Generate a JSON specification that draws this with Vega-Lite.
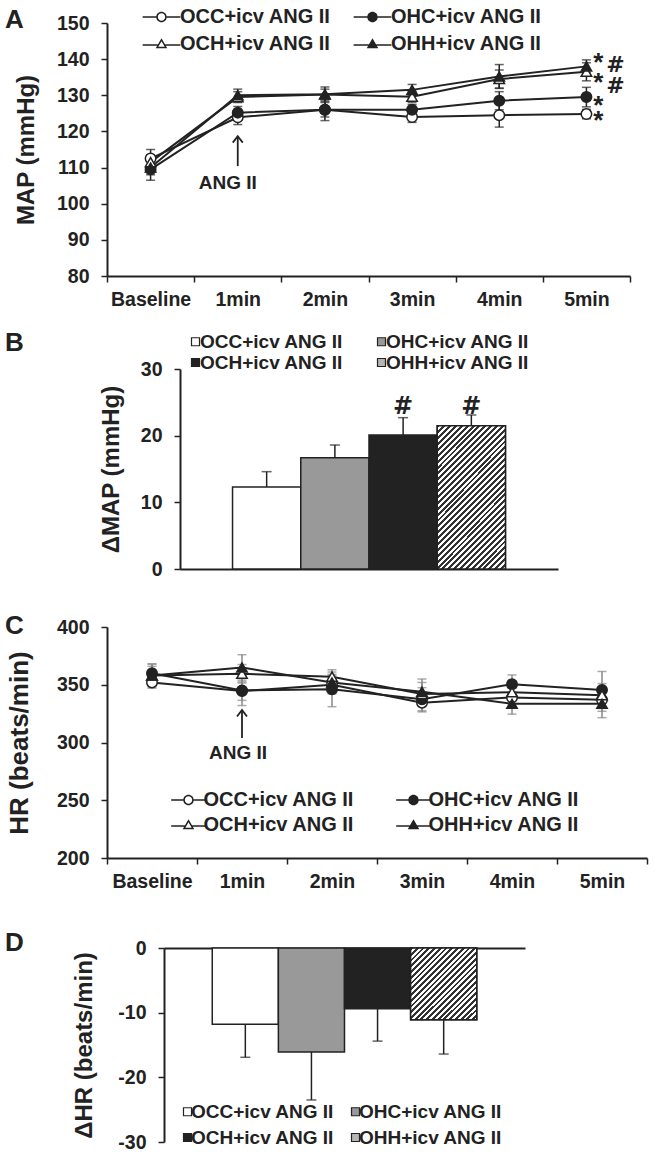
{
  "$schema": "https://vega.github.io/schema/vega-lite/v6.json",
  "padding": {"left": 5, "top": 7, "right": 5, "bottom": 5},
  "background": "white",
  "datasets": {
    "map": [
      {"t": "Baseline", "group": "OCC+icv ANG II", "v": 112.5, "sem": 2.5},
      {"t": "1min", "group": "OCC+icv ANG II", "v": 123.9, "sem": 2.0},
      {"t": "2min", "group": "OCC+icv ANG II", "v": 126.0, "sem": 2.0},
      {"t": "3min", "group": "OCC+icv ANG II", "v": 124.0, "sem": 1.5},
      {"t": "4min", "group": "OCC+icv ANG II", "v": 124.5, "sem": 3.3},
      {"t": "5min", "group": "OCC+icv ANG II", "v": 124.8, "sem": 1.3},
      {"t": "Baseline", "group": "OHC+icv ANG II", "v": 109.5, "sem": 3.0},
      {"t": "1min", "group": "OHC+icv ANG II", "v": 125.2, "sem": 1.7},
      {"t": "2min", "group": "OHC+icv ANG II", "v": 126.0, "sem": 3.0},
      {"t": "3min", "group": "OHC+icv ANG II", "v": 126.0, "sem": 1.5},
      {"t": "4min", "group": "OHC+icv ANG II", "v": 128.5, "sem": 2.5},
      {"t": "5min", "group": "OHC+icv ANG II", "v": 129.5, "sem": 2.7},
      {"t": "Baseline", "group": "OCH+icv ANG II", "v": 111.5, "sem": 2.0},
      {"t": "1min", "group": "OCH+icv ANG II", "v": 129.5, "sem": 1.5},
      {"t": "2min", "group": "OCH+icv ANG II", "v": 130.2, "sem": 1.5},
      {"t": "3min", "group": "OCH+icv ANG II", "v": 129.6, "sem": 1.5},
      {"t": "4min", "group": "OCH+icv ANG II", "v": 134.5, "sem": 2.5},
      {"t": "5min", "group": "OCH+icv ANG II", "v": 136.5, "sem": 2.5},
      {"t": "Baseline", "group": "OHH+icv ANG II", "v": 110.0, "sem": 2.0},
      {"t": "1min", "group": "OHH+icv ANG II", "v": 130.0, "sem": 1.7},
      {"t": "2min", "group": "OHH+icv ANG II", "v": 130.3, "sem": 2.0},
      {"t": "3min", "group": "OHH+icv ANG II", "v": 131.5, "sem": 1.5},
      {"t": "4min", "group": "OHH+icv ANG II", "v": 135.2, "sem": 3.3},
      {"t": "5min", "group": "OHH+icv ANG II", "v": 138.0, "sem": 1.8}
    ],
    "mapStar": [
      {"t": "5min", "v": 140.9, "label": "*"},
      {"t": "5min", "v": 135.3, "label": "*"},
      {"t": "5min", "v": 129.0, "label": "*"},
      {"t": "5min", "v": 124.8, "label": "*"}
    ],
    "mapHash": [
      {"t": "5min", "v": 138.7, "label": "#"},
      {"t": "5min", "v": 132.8, "label": "#"}
    ],
    "mapArrow": [{"t": "1min", "v": 110.4, "v2": 118.7}],
    "mapArrowTip": [{"t": "1min", "v": 118.7}],
    "mapArrowText": [{"t": "1min", "v": 106.0, "label": "ANG II"}],
    "hr": [
      {"t": "Baseline", "group": "OCC+icv ANG II", "v": 352, "sem": 5},
      {"t": "1min", "group": "OCC+icv ANG II", "v": 344.5, "sem": 8},
      {"t": "2min", "group": "OCC+icv ANG II", "v": 350, "sem": 8},
      {"t": "3min", "group": "OCC+icv ANG II", "v": 334.5, "sem": 8},
      {"t": "4min", "group": "OCC+icv ANG II", "v": 339, "sem": 8},
      {"t": "5min", "group": "OCC+icv ANG II", "v": 337, "sem": 10},
      {"t": "Baseline", "group": "OHC+icv ANG II", "v": 360, "sem": 8},
      {"t": "1min", "group": "OHC+icv ANG II", "v": 345, "sem": 13},
      {"t": "2min", "group": "OHC+icv ANG II", "v": 346, "sem": 15},
      {"t": "3min", "group": "OHC+icv ANG II", "v": 337.5, "sem": 10},
      {"t": "4min", "group": "OHC+icv ANG II", "v": 350.5, "sem": 8},
      {"t": "5min", "group": "OHC+icv ANG II", "v": 345.5, "sem": 16},
      {"t": "Baseline", "group": "OCH+icv ANG II", "v": 358, "sem": 10},
      {"t": "1min", "group": "OCH+icv ANG II", "v": 359.5, "sem": 8},
      {"t": "2min", "group": "OCH+icv ANG II", "v": 357, "sem": 6},
      {"t": "3min", "group": "OCH+icv ANG II", "v": 342, "sem": 10},
      {"t": "4min", "group": "OCH+icv ANG II", "v": 343.5, "sem": 10},
      {"t": "5min", "group": "OCH+icv ANG II", "v": 341, "sem": 10},
      {"t": "Baseline", "group": "OHH+icv ANG II", "v": 358, "sem": 8},
      {"t": "1min", "group": "OHH+icv ANG II", "v": 365, "sem": 11},
      {"t": "2min", "group": "OHH+icv ANG II", "v": 352, "sem": 7},
      {"t": "3min", "group": "OHH+icv ANG II", "v": 344, "sem": 11},
      {"t": "4min", "group": "OHH+icv ANG II", "v": 333.5, "sem": 9},
      {"t": "5min", "group": "OHH+icv ANG II", "v": 333.5, "sem": 12}
    ],
    "hrArrow": [{"t": "1min", "v": 303.9, "v2": 328.1}],
    "hrArrowTip": [{"t": "1min", "v": 328.1}],
    "hrArrowText": [{"t": "1min", "v": 291.8, "label": "ANG II"}],
    "dmap": [
      {"group": "OCC+icv ANG II", "v": 12.3, "hi": 14.6},
      {"group": "OHC+icv ANG II", "v": 16.7, "hi": 18.6},
      {"group": "OCH+icv ANG II", "v": 20.1, "hi": 22.7},
      {"group": "OHH+icv ANG II", "v": 21.5, "hi": 23.1}
    ],
    "dmapHash": [
      {"group": "OCH+icv ANG II", "v": 24.6, "label": "#"},
      {"group": "OHH+icv ANG II", "v": 24.6, "label": "#"}
    ],
    "dhr": [
      {"group": "OCC+icv ANG II", "v": -11.8, "lo": -16.9},
      {"group": "OHC+icv ANG II", "v": -16.1, "lo": -23.5},
      {"group": "OCH+icv ANG II", "v": -9.4, "lo": -14.4},
      {"group": "OHH+icv ANG II", "v": -11.1, "lo": -16.4}
    ]
  },
  "align": "none",
  "resolve": {"scale": {"fill": "independent", "shape": "independent"}, "legend": {"fill": "independent", "shape": "independent"}},
  "spacing": 34,
  "vconcat": [
    {
      "align": "none",
      "resolve": {"scale": {"fill": "independent", "shape": "independent"}, "legend": {"fill": "independent", "shape": "independent"}},
      "spacing": 21,
      "vconcat": [
        {
          "width": 523,
          "height": 253,
          "title": {"text": "A", "dx": -102, "dy": 30},
          "data": {"name": "map"},
          "resolve": {"scale": {"fill": "independent", "shape": "independent"}, "legend": {"fill": "independent", "shape": "independent"}},
          "encoding": {
            "x": {"field": "t", "type": "nominal", "sort": ["Baseline", "1min", "2min", "3min", "4min", "5min"], "scale": {"domain": ["Baseline", "1min", "2min", "3min", "4min", "5min"], "paddingInner": 0, "paddingOuter": 0}, "axis": {"title": null, "tickBand": "extent", "labelPadding": 8}},
            "y": {"field": "v", "type": "quantitative", "scale": {"domain": [80, 150], "nice": false, "zero": false}, "axis": {"title": "MAP (mmHg)", "values": [80, 90, 100, 110, 120, 130, 140, 150], "labelPadding": 12, "titlePadding": 18}}
          },
          "layer": [
            {"mark": {"type": "errorbar", "color": "#222", "thickness": 1.5, "ticks": {"size": 9}}, "encoding": {"yError": {"field": "sem"}}},
            {"mark": {"type": "line", "color": "#222", "strokeWidth": 2}, "encoding": {"detail": {"field": "group"}}},
            {
              "mark": {"type": "point", "filled": true, "size": 110, "stroke": "#222", "strokeWidth": 1.5, "opacity": 1},
              "encoding": {
                "shape": {"field": "group", "type": "nominal", "scale": {"domain": ["OCC+icv ANG II", "OHC+icv ANG II", "OCH+icv ANG II", "OHH+icv ANG II"], "range": ["circle", "circle", "triangle-up", "triangle-up"]}, "legend": null},
                "fill": {"field": "group", "type": "nominal", "scale": {"domain": ["OCC+icv ANG II", "OHC+icv ANG II", "OCH+icv ANG II", "OHH+icv ANG II"], "range": ["#ffffff", "#222222", "#ffffff", "#222222"]}, "legend": null}
              }
            },
            {
              "mark": {"type": "point", "filled": true, "color": "#222", "size": 110, "opacity": 0},
              "encoding": {
                "shape": {"field": "group", "type": "nominal",
                  "scale": {"domain": ["OCC+icv ANG II", "OHC+icv ANG II", "OCH+icv ANG II", "OHH+icv ANG II"],
                    "range": [
                      "M-3.6,-0.15L-1,-0.15L-1,0.15L-3.6,0.15ZM1,-0.15L3.6,-0.15L3.6,0.15L1,0.15ZM-1,0A1,1,0,1,1,1,0A1,1,0,1,1,-1,0ZM-0.7,0A0.7,0.7,0,1,0,0.7,0A0.7,0.7,0,1,0,-0.7,0Z",
                      "M-3.6,-0.15L-1,-0.15L-1,0.15L-3.6,0.15ZM1,-0.15L3.6,-0.15L3.6,0.15L1,0.15ZM-1,0A1,1,0,1,1,1,0A1,1,0,1,1,-1,0Z",
                      "M-3.6,0.05L-0.72,0.05L-0.72,0.35L-3.6,0.35ZM0.72,0.05L3.6,0.05L3.6,0.35L0.72,0.35ZM0,-1.1L1.1,0.8L-1.1,0.8ZM0,-0.54L-0.61,0.52L0.61,0.52Z",
                      "M-3.6,0.05L-0.72,0.05L-0.72,0.35L-3.6,0.35ZM0.72,0.05L3.6,0.05L3.6,0.35L0.72,0.35ZM0,-1.1L1.1,0.8L-1.1,0.8Z"
                    ]},
                  "legend": {"title": null, "orient": "none", "direction": "horizontal", "legendX": 36, "legendY": -16, "columns": 2, "columnPadding": 22, "rowPadding": 7, "labelFontSize": 20, "symbolSize": 110, "symbolOpacity": 1, "symbolFillColor": "#222", "symbolStrokeColor": "transparent", "symbolStrokeWidth": 0, "symbolOffset": 8.5, "labelOffset": 8.5}}
              }
            },
            {"data": {"name": "mapStar"}, "mark": {"type": "text", "fontSize": 26, "dx": 12, "dy": 15}, "encoding": {"text": {"field": "label"}}},
            {"data": {"name": "mapHash"}, "mark": {"type": "text", "font": "DejaVu Sans", "fontWeight": "bold", "fontSize": 22, "dx": 29, "dy": 8}, "encoding": {"text": {"field": "label"}}},
            {"data": {"name": "mapArrow"}, "mark": {"type": "rule", "color": "#222", "strokeWidth": 1.8}, "encoding": {"y2": {"field": "v2"}}},
            {"data": {"name": "mapArrowTip"}, "mark": {"type": "point", "shape": "M-1,1.3L0,0L1,1.3", "size": 100, "filled": false, "stroke": "#222", "strokeWidth": 1.8, "opacity": 1}},
            {"data": {"name": "mapArrowText"}, "mark": {"type": "text", "fontSize": 19, "dx": -10, "dy": 7}, "encoding": {"text": {"field": "label"}}}
          ]
        },
        {
          "width": 451,
          "height": 200,
          "title": {"text": "B", "dx": -102, "dy": 28},
          "data": {"name": "dmap"},
          "encoding": {
            "x": {"field": "group", "type": "nominal", "scale": {"domain": ["OCC+icv ANG II", "OHC+icv ANG II", "OCH+icv ANG II", "OHH+icv ANG II"], "range": [73, 451], "paddingInner": 0, "paddingOuter": 0.77}, "axis": {"title": null, "labels": false, "ticks": false}},
            "y": {"field": "v", "type": "quantitative", "scale": {"domain": [0, 30], "nice": false}, "axis": {"title": "ΔMAP (mmHg)", "values": [0, 10, 20, 30], "offset": -73, "labelPadding": 12, "titlePadding": 17}}
          },
          "layer": [
            {
              "mark": {"type": "bar", "stroke": "#222", "strokeWidth": 1.5},
              "encoding": {
                "fill": {"field": "group", "type": "nominal", "scale": {"domain": ["OCC+icv ANG II", "OHC+icv ANG II", "OCH+icv ANG II", "OHH+icv ANG II"], "range": ["#ffffff", "#999999", "#222222", "#b5b5b5"]},
                  "legend": {"title": null, "orient": "none", "direction": "horizontal", "legendX": 79, "legendY": -37, "columns": 2, "columnPadding": 28, "rowPadding": 1, "labelFontSize": 19, "symbolType": "square", "symbolSize": 64, "symbolStrokeWidth": 1.2, "symbolStrokeColor": "#222", "symbolOpacity": 1, "labelOffset": -5}}
              }
            },
            {
              "transform": [{"filter": "datum.group == 'OHH+icv ANG II'"}],
              "mark": {"type": "bar", "stroke": "#222", "strokeWidth": 1.5, "fill": {"gradient": "linear", "x1": 0, "y1": 0, "x2": 0.575, "y2": 1.203, "stops": [
                {"offset": 0, "color": "#333"},
                {"offset": 0.0139, "color": "#333"}, {"offset": 0.0139, "color": "#fff"},
                {"offset": 0.0278, "color": "#fff"}, {"offset": 0.0278, "color": "#333"},
                {"offset": 0.0417, "color": "#333"}, {"offset": 0.0417, "color": "#fff"},
                {"offset": 0.0556, "color": "#fff"}, {"offset": 0.0556, "color": "#333"},
                {"offset": 0.0694, "color": "#333"}, {"offset": 0.0694, "color": "#fff"},
                {"offset": 0.0833, "color": "#fff"}, {"offset": 0.0833, "color": "#333"},
                {"offset": 0.0972, "color": "#333"}, {"offset": 0.0972, "color": "#fff"},
                {"offset": 0.1111, "color": "#fff"}, {"offset": 0.1111, "color": "#333"},
                {"offset": 0.125, "color": "#333"}, {"offset": 0.125, "color": "#fff"},
                {"offset": 0.1389, "color": "#fff"}, {"offset": 0.1389, "color": "#333"},
                {"offset": 0.1528, "color": "#333"}, {"offset": 0.1528, "color": "#fff"},
                {"offset": 0.1667, "color": "#fff"}, {"offset": 0.1667, "color": "#333"},
                {"offset": 0.1806, "color": "#333"}, {"offset": 0.1806, "color": "#fff"},
                {"offset": 0.1944, "color": "#fff"}, {"offset": 0.1944, "color": "#333"},
                {"offset": 0.2083, "color": "#333"}, {"offset": 0.2083, "color": "#fff"},
                {"offset": 0.2222, "color": "#fff"}, {"offset": 0.2222, "color": "#333"},
                {"offset": 0.2361, "color": "#333"}, {"offset": 0.2361, "color": "#fff"},
                {"offset": 0.25, "color": "#fff"}, {"offset": 0.25, "color": "#333"},
                {"offset": 0.2639, "color": "#333"}, {"offset": 0.2639, "color": "#fff"},
                {"offset": 0.2778, "color": "#fff"}, {"offset": 0.2778, "color": "#333"},
                {"offset": 0.2917, "color": "#333"}, {"offset": 0.2917, "color": "#fff"},
                {"offset": 0.3056, "color": "#fff"}, {"offset": 0.3056, "color": "#333"},
                {"offset": 0.3194, "color": "#333"}, {"offset": 0.3194, "color": "#fff"},
                {"offset": 0.3333, "color": "#fff"}, {"offset": 0.3333, "color": "#333"},
                {"offset": 0.3472, "color": "#333"}, {"offset": 0.3472, "color": "#fff"},
                {"offset": 0.3611, "color": "#fff"}, {"offset": 0.3611, "color": "#333"},
                {"offset": 0.375, "color": "#333"}, {"offset": 0.375, "color": "#fff"},
                {"offset": 0.3889, "color": "#fff"}, {"offset": 0.3889, "color": "#333"},
                {"offset": 0.4028, "color": "#333"}, {"offset": 0.4028, "color": "#fff"},
                {"offset": 0.4167, "color": "#fff"}, {"offset": 0.4167, "color": "#333"},
                {"offset": 0.4306, "color": "#333"}, {"offset": 0.4306, "color": "#fff"},
                {"offset": 0.4444, "color": "#fff"}, {"offset": 0.4444, "color": "#333"},
                {"offset": 0.4583, "color": "#333"}, {"offset": 0.4583, "color": "#fff"},
                {"offset": 0.4722, "color": "#fff"}, {"offset": 0.4722, "color": "#333"},
                {"offset": 0.4861, "color": "#333"}, {"offset": 0.4861, "color": "#fff"},
                {"offset": 0.5, "color": "#fff"}, {"offset": 0.5, "color": "#333"},
                {"offset": 0.5139, "color": "#333"}, {"offset": 0.5139, "color": "#fff"},
                {"offset": 0.5278, "color": "#fff"}, {"offset": 0.5278, "color": "#333"},
                {"offset": 0.5417, "color": "#333"}, {"offset": 0.5417, "color": "#fff"},
                {"offset": 0.5556, "color": "#fff"}, {"offset": 0.5556, "color": "#333"},
                {"offset": 0.5694, "color": "#333"}, {"offset": 0.5694, "color": "#fff"},
                {"offset": 0.5833, "color": "#fff"}, {"offset": 0.5833, "color": "#333"},
                {"offset": 0.5972, "color": "#333"}, {"offset": 0.5972, "color": "#fff"},
                {"offset": 0.6111, "color": "#fff"}, {"offset": 0.6111, "color": "#333"},
                {"offset": 0.625, "color": "#333"}, {"offset": 0.625, "color": "#fff"},
                {"offset": 0.6389, "color": "#fff"}, {"offset": 0.6389, "color": "#333"},
                {"offset": 0.6528, "color": "#333"}, {"offset": 0.6528, "color": "#fff"},
                {"offset": 0.6667, "color": "#fff"}, {"offset": 0.6667, "color": "#333"},
                {"offset": 0.6806, "color": "#333"}, {"offset": 0.6806, "color": "#fff"},
                {"offset": 0.6944, "color": "#fff"}, {"offset": 0.6944, "color": "#333"},
                {"offset": 0.7083, "color": "#333"}, {"offset": 0.7083, "color": "#fff"},
                {"offset": 0.7222, "color": "#fff"}, {"offset": 0.7222, "color": "#333"},
                {"offset": 0.7361, "color": "#333"}, {"offset": 0.7361, "color": "#fff"},
                {"offset": 0.75, "color": "#fff"}, {"offset": 0.75, "color": "#333"},
                {"offset": 0.7639, "color": "#333"}, {"offset": 0.7639, "color": "#fff"},
                {"offset": 0.7778, "color": "#fff"}, {"offset": 0.7778, "color": "#333"},
                {"offset": 0.7917, "color": "#333"}, {"offset": 0.7917, "color": "#fff"},
                {"offset": 0.8056, "color": "#fff"}, {"offset": 0.8056, "color": "#333"},
                {"offset": 0.8194, "color": "#333"}, {"offset": 0.8194, "color": "#fff"},
                {"offset": 0.8333, "color": "#fff"}, {"offset": 0.8333, "color": "#333"},
                {"offset": 0.8472, "color": "#333"}, {"offset": 0.8472, "color": "#fff"},
                {"offset": 0.8611, "color": "#fff"}, {"offset": 0.8611, "color": "#333"},
                {"offset": 0.875, "color": "#333"}, {"offset": 0.875, "color": "#fff"},
                {"offset": 0.8889, "color": "#fff"}, {"offset": 0.8889, "color": "#333"},
                {"offset": 0.9028, "color": "#333"}, {"offset": 0.9028, "color": "#fff"},
                {"offset": 0.9167, "color": "#fff"}, {"offset": 0.9167, "color": "#333"},
                {"offset": 0.9306, "color": "#333"}, {"offset": 0.9306, "color": "#fff"},
                {"offset": 0.9444, "color": "#fff"}, {"offset": 0.9444, "color": "#333"},
                {"offset": 0.9583, "color": "#333"}, {"offset": 0.9583, "color": "#fff"},
                {"offset": 0.9722, "color": "#fff"}, {"offset": 0.9722, "color": "#333"},
                {"offset": 0.9861, "color": "#333"}, {"offset": 0.9861, "color": "#fff"},
                {"offset": 1, "color": "#fff"}
              ]}}
            },
            {"mark": {"type": "rule", "color": "#222", "strokeWidth": 1.5}, "encoding": {"y2": {"field": "hi"}}},
            {"mark": {"type": "tick", "color": "#222", "thickness": 1.5, "size": 10}, "encoding": {"y": {"field": "hi", "type": "quantitative"}}},
            {"data": {"name": "dmapHash"}, "mark": {"type": "text", "font": "DejaVu Sans", "fontWeight": "bold", "fontSize": 24, "dy": 9}, "encoding": {"text": {"field": "label"}}}
          ]
        }
      ]
    },
    {
      "align": "none",
      "resolve": {"scale": {"fill": "independent", "shape": "independent"}, "legend": {"fill": "independent", "shape": "independent"}},
      "spacing": 39,
      "vconcat": [
        {
          "width": 540,
          "height": 231,
          "title": {"text": "C", "dx": -102, "dy": 26},
          "data": {"name": "hr"},
          "resolve": {"scale": {"fill": "independent", "shape": "independent"}, "legend": {"fill": "independent", "shape": "independent"}},
          "encoding": {
            "x": {"field": "t", "type": "nominal", "sort": ["Baseline", "1min", "2min", "3min", "4min", "5min"], "scale": {"domain": ["Baseline", "1min", "2min", "3min", "4min", "5min"], "paddingInner": 0, "paddingOuter": 0}, "axis": {"title": null, "tickBand": "extent", "labelPadding": 8}},
            "y": {"field": "v", "type": "quantitative", "scale": {"domain": [200, 400], "nice": false, "zero": false}, "axis": {"title": "HR (beats/min)", "titleFontSize": 26, "values": [200, 250, 300, 350, 400], "labelPadding": 12, "titlePadding": 24}}
          },
          "layer": [
            {"mark": {"type": "errorbar", "color": "#888", "thickness": 1.5, "ticks": {"size": 9}}, "encoding": {"yError": {"field": "sem"}}},
            {"mark": {"type": "line", "color": "#222", "strokeWidth": 2}, "encoding": {"detail": {"field": "group"}}},
            {
              "mark": {"type": "point", "filled": true, "size": 110, "stroke": "#222", "strokeWidth": 1.5, "opacity": 1},
              "encoding": {
                "shape": {"field": "group", "type": "nominal", "scale": {"domain": ["OCC+icv ANG II", "OHC+icv ANG II", "OCH+icv ANG II", "OHH+icv ANG II"], "range": ["circle", "circle", "triangle-up", "triangle-up"]}, "legend": null},
                "fill": {"field": "group", "type": "nominal", "scale": {"domain": ["OCC+icv ANG II", "OHC+icv ANG II", "OCH+icv ANG II", "OHH+icv ANG II"], "range": ["#ffffff", "#222222", "#ffffff", "#222222"]}, "legend": null}
              }
            },
            {
              "mark": {"type": "point", "filled": true, "color": "#222", "size": 110, "opacity": 0},
              "encoding": {
                "shape": {"field": "group", "type": "nominal",
                  "scale": {"domain": ["OCC+icv ANG II", "OHC+icv ANG II", "OCH+icv ANG II", "OHH+icv ANG II"],
                    "range": [
                      "M-3.3,-0.15L-1,-0.15L-1,0.15L-3.3,0.15ZM1,-0.15L3.3,-0.15L3.3,0.15L1,0.15ZM-1,0A1,1,0,1,1,1,0A1,1,0,1,1,-1,0ZM-0.7,0A0.7,0.7,0,1,0,0.7,0A0.7,0.7,0,1,0,-0.7,0Z",
                      "M-3.3,-0.15L-1,-0.15L-1,0.15L-3.3,0.15ZM1,-0.15L3.3,-0.15L3.3,0.15L1,0.15ZM-1,0A1,1,0,1,1,1,0A1,1,0,1,1,-1,0Z",
                      "M-3.3,0.05L-0.72,0.05L-0.72,0.35L-3.3,0.35ZM0.72,0.05L3.3,0.05L3.3,0.35L0.72,0.35ZM0,-1.1L1.1,0.8L-1.1,0.8ZM0,-0.54L-0.61,0.52L0.61,0.52Z",
                      "M-3.3,0.05L-0.72,0.05L-0.72,0.35L-3.3,0.35ZM0.72,0.05L3.3,0.05L3.3,0.35L0.72,0.35ZM0,-1.1L1.1,0.8L-1.1,0.8Z"
                    ]},
                  "legend": {"title": null, "orient": "none", "direction": "horizontal", "legendX": 65, "legendY": 163, "columns": 2, "columnPadding": 41, "rowPadding": 5, "labelFontSize": 20, "symbolSize": 110, "symbolOpacity": 1, "symbolFillColor": "#222", "symbolStrokeColor": "transparent", "symbolStrokeWidth": 0, "symbolOffset": 6.5, "labelOffset": 5}}
              }
            },
            {"data": {"name": "hrArrow"}, "mark": {"type": "rule", "color": "#222", "strokeWidth": 1.8}, "encoding": {"y2": {"field": "v2"}}},
            {"data": {"name": "hrArrowTip"}, "mark": {"type": "point", "shape": "M-1,1.3L0,0L1,1.3", "size": 100, "filled": false, "stroke": "#222", "strokeWidth": 1.8, "opacity": 1}},
            {"data": {"name": "hrArrowText"}, "mark": {"type": "text", "fontSize": 19, "dx": -4, "dy": 7}, "encoding": {"text": {"field": "label"}}}
          ]
        },
        {
          "width": 418,
          "height": 194,
          "title": {"text": "D", "dx": -102, "dy": 22},
          "data": {"name": "dhr"},
          "encoding": {
            "x": {"field": "group", "type": "nominal", "scale": {"domain": ["OCC+icv ANG II", "OHC+icv ANG II", "OCH+icv ANG II", "OHH+icv ANG II"], "range": [57, 418], "paddingInner": 0, "paddingOuter": 0.73}, "axis": {"title": null, "labels": false, "ticks": false, "orient": "top"}},
            "y": {"field": "v", "type": "quantitative", "scale": {"domain": [-30, 0], "nice": false}, "axis": {"title": "ΔHR (beats/min)", "values": [-30, -20, -10, 0], "labelExpr": "'' + datum.value", "offset": -57, "labelPadding": 12, "titlePadding": 21}}
          },
          "layer": [
            {
              "mark": {"type": "bar", "stroke": "#222", "strokeWidth": 1.5},
              "encoding": {
                "fill": {"field": "group", "type": "nominal", "scale": {"domain": ["OCC+icv ANG II", "OHC+icv ANG II", "OCH+icv ANG II", "OHH+icv ANG II"], "range": ["#ffffff", "#999999", "#222222", "#b5b5b5"]},
                  "legend": {"title": null, "orient": "none", "direction": "horizontal", "legendX": 71, "legendY": 154, "columns": 2, "columnPadding": 11, "rowPadding": 6, "labelFontSize": 19, "symbolType": "square", "symbolSize": 64, "symbolStrokeWidth": 1.2, "symbolStrokeColor": "#222", "symbolOpacity": 1, "labelOffset": -6}}
              }
            },
            {
              "transform": [{"filter": "datum.group == 'OHH+icv ANG II'"}],
              "mark": {"type": "bar", "stroke": "#222", "strokeWidth": 1.5, "fill": {"gradient": "linear", "x1": 0, "y1": 0, "x2": 0.956, "y2": 1.04, "stops": [
                {"offset": 0, "color": "#333"},
                {"offset": 0.0208, "color": "#333"}, {"offset": 0.0208, "color": "#fff"},
                {"offset": 0.0417, "color": "#fff"}, {"offset": 0.0417, "color": "#333"},
                {"offset": 0.0625, "color": "#333"}, {"offset": 0.0625, "color": "#fff"},
                {"offset": 0.0833, "color": "#fff"}, {"offset": 0.0833, "color": "#333"},
                {"offset": 0.1042, "color": "#333"}, {"offset": 0.1042, "color": "#fff"},
                {"offset": 0.125, "color": "#fff"}, {"offset": 0.125, "color": "#333"},
                {"offset": 0.1458, "color": "#333"}, {"offset": 0.1458, "color": "#fff"},
                {"offset": 0.1667, "color": "#fff"}, {"offset": 0.1667, "color": "#333"},
                {"offset": 0.1875, "color": "#333"}, {"offset": 0.1875, "color": "#fff"},
                {"offset": 0.2083, "color": "#fff"}, {"offset": 0.2083, "color": "#333"},
                {"offset": 0.2292, "color": "#333"}, {"offset": 0.2292, "color": "#fff"},
                {"offset": 0.25, "color": "#fff"}, {"offset": 0.25, "color": "#333"},
                {"offset": 0.2708, "color": "#333"}, {"offset": 0.2708, "color": "#fff"},
                {"offset": 0.2917, "color": "#fff"}, {"offset": 0.2917, "color": "#333"},
                {"offset": 0.3125, "color": "#333"}, {"offset": 0.3125, "color": "#fff"},
                {"offset": 0.3333, "color": "#fff"}, {"offset": 0.3333, "color": "#333"},
                {"offset": 0.3542, "color": "#333"}, {"offset": 0.3542, "color": "#fff"},
                {"offset": 0.375, "color": "#fff"}, {"offset": 0.375, "color": "#333"},
                {"offset": 0.3958, "color": "#333"}, {"offset": 0.3958, "color": "#fff"},
                {"offset": 0.4167, "color": "#fff"}, {"offset": 0.4167, "color": "#333"},
                {"offset": 0.4375, "color": "#333"}, {"offset": 0.4375, "color": "#fff"},
                {"offset": 0.4583, "color": "#fff"}, {"offset": 0.4583, "color": "#333"},
                {"offset": 0.4792, "color": "#333"}, {"offset": 0.4792, "color": "#fff"},
                {"offset": 0.5, "color": "#fff"}, {"offset": 0.5, "color": "#333"},
                {"offset": 0.5208, "color": "#333"}, {"offset": 0.5208, "color": "#fff"},
                {"offset": 0.5417, "color": "#fff"}, {"offset": 0.5417, "color": "#333"},
                {"offset": 0.5625, "color": "#333"}, {"offset": 0.5625, "color": "#fff"},
                {"offset": 0.5833, "color": "#fff"}, {"offset": 0.5833, "color": "#333"},
                {"offset": 0.6042, "color": "#333"}, {"offset": 0.6042, "color": "#fff"},
                {"offset": 0.625, "color": "#fff"}, {"offset": 0.625, "color": "#333"},
                {"offset": 0.6458, "color": "#333"}, {"offset": 0.6458, "color": "#fff"},
                {"offset": 0.6667, "color": "#fff"}, {"offset": 0.6667, "color": "#333"},
                {"offset": 0.6875, "color": "#333"}, {"offset": 0.6875, "color": "#fff"},
                {"offset": 0.7083, "color": "#fff"}, {"offset": 0.7083, "color": "#333"},
                {"offset": 0.7292, "color": "#333"}, {"offset": 0.7292, "color": "#fff"},
                {"offset": 0.75, "color": "#fff"}, {"offset": 0.75, "color": "#333"},
                {"offset": 0.7708, "color": "#333"}, {"offset": 0.7708, "color": "#fff"},
                {"offset": 0.7917, "color": "#fff"}, {"offset": 0.7917, "color": "#333"},
                {"offset": 0.8125, "color": "#333"}, {"offset": 0.8125, "color": "#fff"},
                {"offset": 0.8333, "color": "#fff"}, {"offset": 0.8333, "color": "#333"},
                {"offset": 0.8542, "color": "#333"}, {"offset": 0.8542, "color": "#fff"},
                {"offset": 0.875, "color": "#fff"}, {"offset": 0.875, "color": "#333"},
                {"offset": 0.8958, "color": "#333"}, {"offset": 0.8958, "color": "#fff"},
                {"offset": 0.9167, "color": "#fff"}, {"offset": 0.9167, "color": "#333"},
                {"offset": 0.9375, "color": "#333"}, {"offset": 0.9375, "color": "#fff"},
                {"offset": 0.9583, "color": "#fff"}, {"offset": 0.9583, "color": "#333"},
                {"offset": 0.9792, "color": "#333"}, {"offset": 0.9792, "color": "#fff"},
                {"offset": 1, "color": "#fff"}
              ]}}
            },
            {"mark": {"type": "rule", "color": "#222", "strokeWidth": 1.5}, "encoding": {"y2": {"field": "lo"}}},
            {"mark": {"type": "tick", "color": "#222", "thickness": 1.5, "size": 10}, "encoding": {"y": {"field": "lo", "type": "quantitative"}}}
          ]
        }
      ]
    }
  ],
  "config": {
    "font": "Liberation Sans",
    "view": {"stroke": null},
    "axis": {"domainColor": "#222", "domainWidth": 2, "tickColor": "#222", "tickWidth": 1.5, "tickSize": 6, "labelFont": "Liberation Sans", "labelFontSize": 19.5, "labelFontWeight": "bold", "labelColor": "#222", "titleFont": "Liberation Sans", "titleFontSize": 24, "titleFontWeight": "bold", "titleColor": "#222", "grid": false, "labelAngle": 0},
    "title": {"font": "Liberation Sans", "fontSize": 26, "fontWeight": "bold", "color": "#222", "anchor": "start", "frame": "group", "offset": 0, "baseline": "alphabetic"},
    "text": {"font": "Liberation Sans", "fontWeight": "bold", "color": "#222", "baseline": "alphabetic"},
    "legend": {"labelFont": "Liberation Sans", "labelFontWeight": "bold", "labelColor": "#222", "labelLimit": 400, "padding": 0}
  }
}
